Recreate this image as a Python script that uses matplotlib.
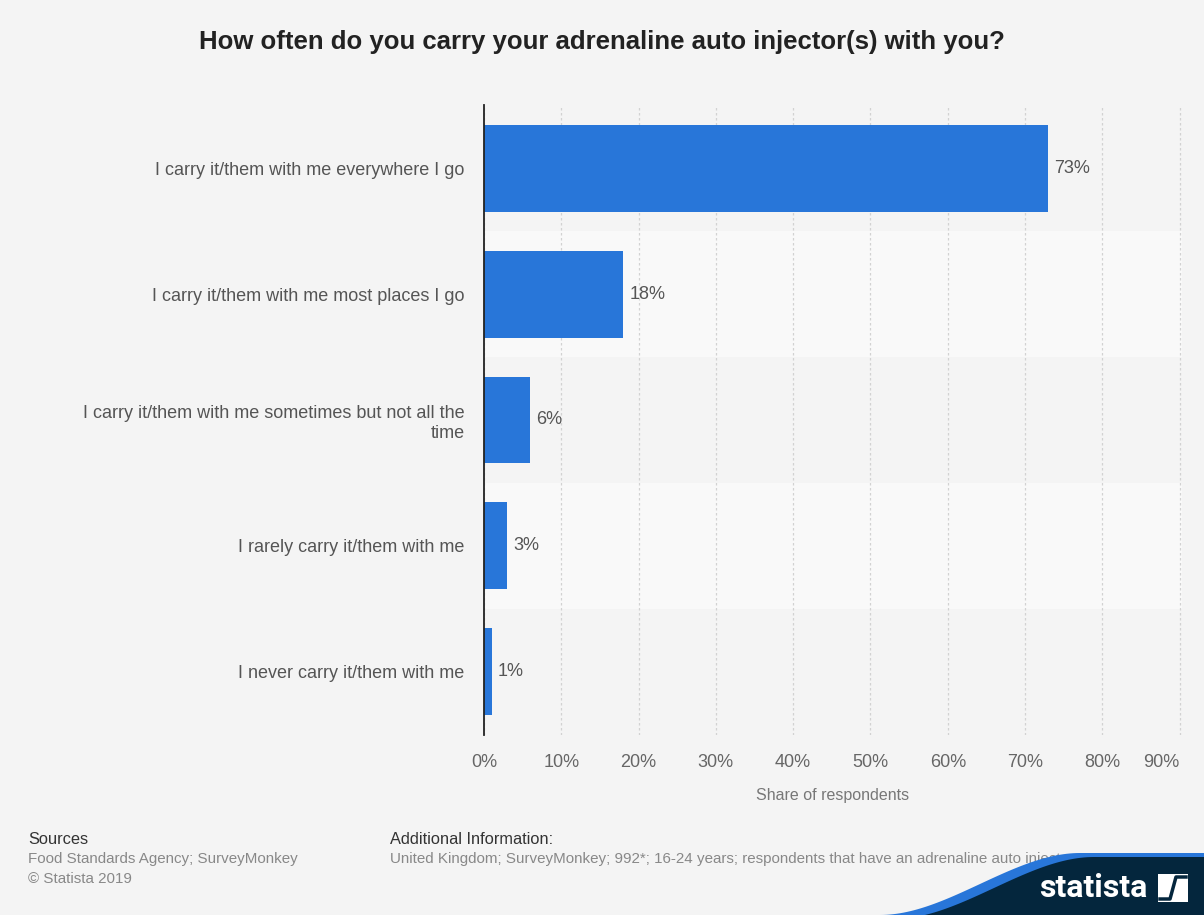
import matplotlib.pyplot as plt
from matplotlib.patches import Polygon, Rectangle
import numpy as np

# survey answers and share of respondents (%)
answers = [
    'I carry it/them with me everywhere I go',
    'I carry it/them with me most places I go',
    'I carry it/them with me sometimes but not all the\ntime',
    'I rarely carry it/them with me',
    'I never carry it/them with me',
]
shares = [73, 18, 6, 3, 1]
xticks = [0, 10, 20, 30, 40, 50, 60, 70, 80, 90]

bg = '#f4f4f4'
bar_col = '#2876d9'

plt.rcParams['font.family'] = ['Liberation Sans', 'DejaVu Sans']

fig = plt.figure(figsize=(12.04, 9.15), dpi=100, facecolor=bg)
ax = fig.add_axes([0.402, 0.197, 0.5797, 0.688])
ax.set_facecolor(bg)

n = len(answers)
ypos = np.arange(n)

# alternating row bands
for i in ypos:
    if i % 2 == 1:
        ax.axhspan(i - 0.5, i + 0.5, color='#f9f9f9', zorder=0, lw=0)

ax.barh(ypos, shares, height=0.69, color=bar_col, zorder=3)
for y, v in zip(ypos, shares):
    ax.text(v + 0.8, y, '{}%'.format(v), va='center', ha='left',
            fontsize=13, color='#555555', zorder=4)

ax.set_xlim(0, 90.3)
ax.set_ylim(n - 0.5, -0.5)
ax.set_xticks(xticks)
ax.set_xticklabels(['{}%'.format(t) for t in xticks])
ax.get_xticklabels()[-1].set_horizontalalignment('right')
ax.set_yticks(ypos)
ax.set_yticklabels(answers, fontsize=13, color='#555555')
ax.tick_params(axis='y', length=0, pad=14)
ax.tick_params(axis='x', length=0, pad=14, labelsize=13, labelcolor='#666666')
ax.grid(axis='x', color='#d2d2d2', linestyle=(0, (2, 2)), lw=0.9, zorder=1)
ax.set_axisbelow(True)
for s in ['top', 'right', 'bottom']:
    ax.spines[s].set_visible(False)
ax.spines['left'].set_color('#222222')
ax.spines['left'].set_linewidth(1.3)
ax.spines['left'].set_zorder(5)

ax.set_xlabel('Share of respondents', fontsize=11.5, color='#777777', labelpad=12)

fig.text(0.5, 1 - 42 / 915, 'How often do you carry your adrenaline auto injector(s) with you?',
         ha='center', va='center', fontsize=18.5, fontweight='bold', color='#222222')

# footer
fig.text(28 / 1204, 1 - 839 / 915, 'Sources', fontsize=11.8, color='#333333', va='center')
fig.text(28 / 1204, 1 - 859 / 915, 'Food Standards Agency; SurveyMonkey',
         fontsize=10.9, color='#888888', va='center')
fig.text(28 / 1204, 1 - 879 / 915, '\u00a9 Statista 2019', fontsize=10.9, color='#888888', va='center')
fig.text(390 / 1204, 1 - 839 / 915, 'Additional Information:', fontsize=11.8, color='#333333', va='center')
fig.text(390 / 1204, 1 - 859 / 915,
         'United Kingdom; SurveyMonkey; 992*; 16-24 years; respondents that have an adrenaline auto injector',
         fontsize=10.9, color='#888888', va='center')

# statista logo corner
W, H = 1204.0, 915.0
xs = np.linspace(880, 1080, 60)
t = (xs - 880) / 200.0
curve = 915 - 62 * (3 * t ** 2 - 2 * t ** 3)
edge = [(x / W, 1 - y / H) for x, y in zip(xs, curve)]
blue_pts = edge + [(1.0, 1 - 853 / H), (1.0, 0.0), (880 / W, 0.0)]
fig.patches.append(Polygon(blue_pts, closed=True, transform=fig.transFigure,
                           facecolor=bar_col, edgecolor='none', zorder=10))
edge2 = [(x / W + 14 / W, 1 - (y + 4) / H) for x, y in zip(xs, curve)]
navy_pts = edge2 + [(1.0, 1 - 857 / H), (1.0, 0.0), (894 / W, 0.0)]
fig.patches.append(Polygon(navy_pts, closed=True, transform=fig.transFigure,
                           facecolor='#04263d', edgecolor='none', zorder=11))
fig.text(1093 / W, 1 - 888 / H, 'statista', ha='center', va='center', fontsize=23,
         fontweight='bold', color='white', family='Roboto', zorder=12)
fig.patches.append(Rectangle((1158 / W, 1 - 902 / H), 30 / W, 28 / H, transform=fig.transFigure,
                             facecolor='white', edgecolor='none', zorder=12))
fig.lines.append(plt.Line2D([1160 / W, 1170 / W, 1176 / W, 1186 / W],
                            [1 - 899 / H, 1 - 899 / H, 1 - 877 / H, 1 - 877 / H],
                            transform=fig.transFigure, color='#04263d', lw=2.5, zorder=13))

fig.savefig('out.png', dpi=100, facecolor=bg)
